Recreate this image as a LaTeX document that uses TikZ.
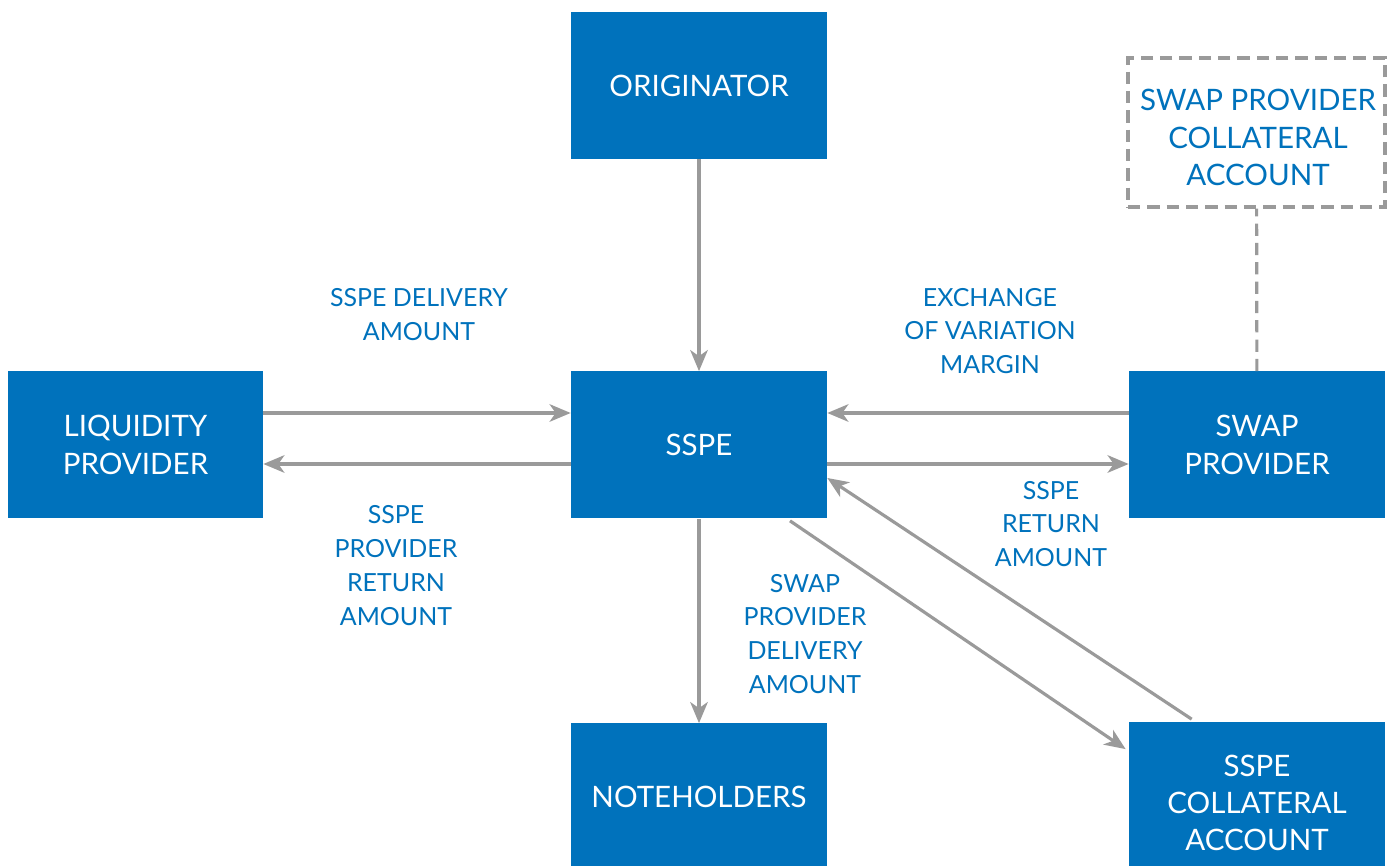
\documentclass[tikz,border=0pt]{standalone}
\usepackage{fontspec}
\setmainfont{Lato}
\usepackage{xcolor}
\usetikzlibrary{arrows.meta, positioning}
\definecolor{pblue}{HTML}{0072BC}
\definecolor{pgray}{HTML}{9A9A9A}

\tikzset{
  party/.style={rectangle, fill=pblue, text=white, align=center,
    minimum width=5.12cm, minimum height=2.94cm, inner sep=0pt,
    font=\fontsize{16.8}{21.2}\selectfont},
  account/.style={rectangle, draw=pgray, dash pattern=on 7pt off 4pt,
    line width=1.8pt, minimum width=5.14cm, minimum height=2.98cm},
  flow/.style={draw=pgray, line width=1.8pt,
    -{Stealth[length=12pt, width=10pt, inset=3.5pt]}},
  flowlabel/.style={text=pblue, align=center, inner sep=0pt,
    font=\fontsize{14.2}{19.3}\selectfont}
}

\begin{document}
\begin{tikzpicture}[x=1cm, y=1cm]

  \useasboundingbox (0,0) rectangle (27.88,17.32);
  \clip (0,0) rectangle (27.88,17.32);

  %% Parties
  \node[party] (orig)  at (13.98,15.61) {ORIGINATOR};
  \node[party] (sspe)  at (13.98,8.42)  {SSPE};
  \node[party, minimum width=5.10cm] (lp) at (2.71,8.42) {LIQUIDITY\\PROVIDER};
  \node[party] (swap)  at (25.14,8.42)  {SWAP\\PROVIDER};
  \node[party] (notes) at (13.98,1.38)  {NOTEHOLDERS};
  \node[party, minimum height=3.22cm] (coll) at (25.14,1.26) {SSPE\\COLLATERAL\\ACCOUNT};

  %% Swap provider's collateral account (off-structure)
  \node[account] (swapcoll) at (25.13,14.67) {};
  \node[party, fill=none, text=pblue, minimum width=0pt, minimum height=0pt]
    (swapcolltxt) at (25.16,14.57) {SWAP PROVIDER\\COLLATERAL\\ACCOUNT};

  %% Flows
  \draw[flow] (orig) -- (sspe);
  \draw[flow] (sspe) -- (notes);
  \draw[flow] ([yshift=0.64cm]lp.east) -- ([yshift=0.64cm]sspe.west);
  \draw[flow] ([yshift=-0.38cm]sspe.west) -- ([yshift=-0.38cm]lp.east);
  \draw[flow] ([yshift=0.64cm]swap.west) -- ([yshift=0.64cm]sspe.east);
  \draw[flow] ([yshift=-0.38cm]sspe.east) -- ([yshift=-0.38cm]swap.west);
  \draw[flow] ([xshift=1.82cm, yshift=-0.04cm]sspe.south) -- ([xshift=-0.06cm, yshift=-0.54cm]coll.north west);
  \draw[flow] ([xshift=1.26cm, yshift=0.06cm]coll.north west) -- ([yshift=-0.66cm]sspe.east);
  \draw[pgray, line width=1.8pt, dash pattern=on 7pt off 4pt] (swap) -- (swapcoll);

  %% Flow labels
  \node[flowlabel] (dlv)   at (8.38,11.02)  {SSPE DELIVERY\\AMOUNT};
  \node[flowlabel] (lpret) at (7.92,6.01)   {SSPE\\PROVIDER\\RETURN\\AMOUNT};
  \node[flowlabel] (vm)    at (19.80,10.70) {EXCHANGE\\OF VARIATION\\MARGIN};
  \node[flowlabel] (ret)   at (21.02,6.84)  {SSPE\\RETURN\\AMOUNT};
  \node[flowlabel] (spdlv) at (16.10,4.64)  {SWAP\\PROVIDER\\DELIVERY\\AMOUNT};

\end{tikzpicture}
\end{document}
